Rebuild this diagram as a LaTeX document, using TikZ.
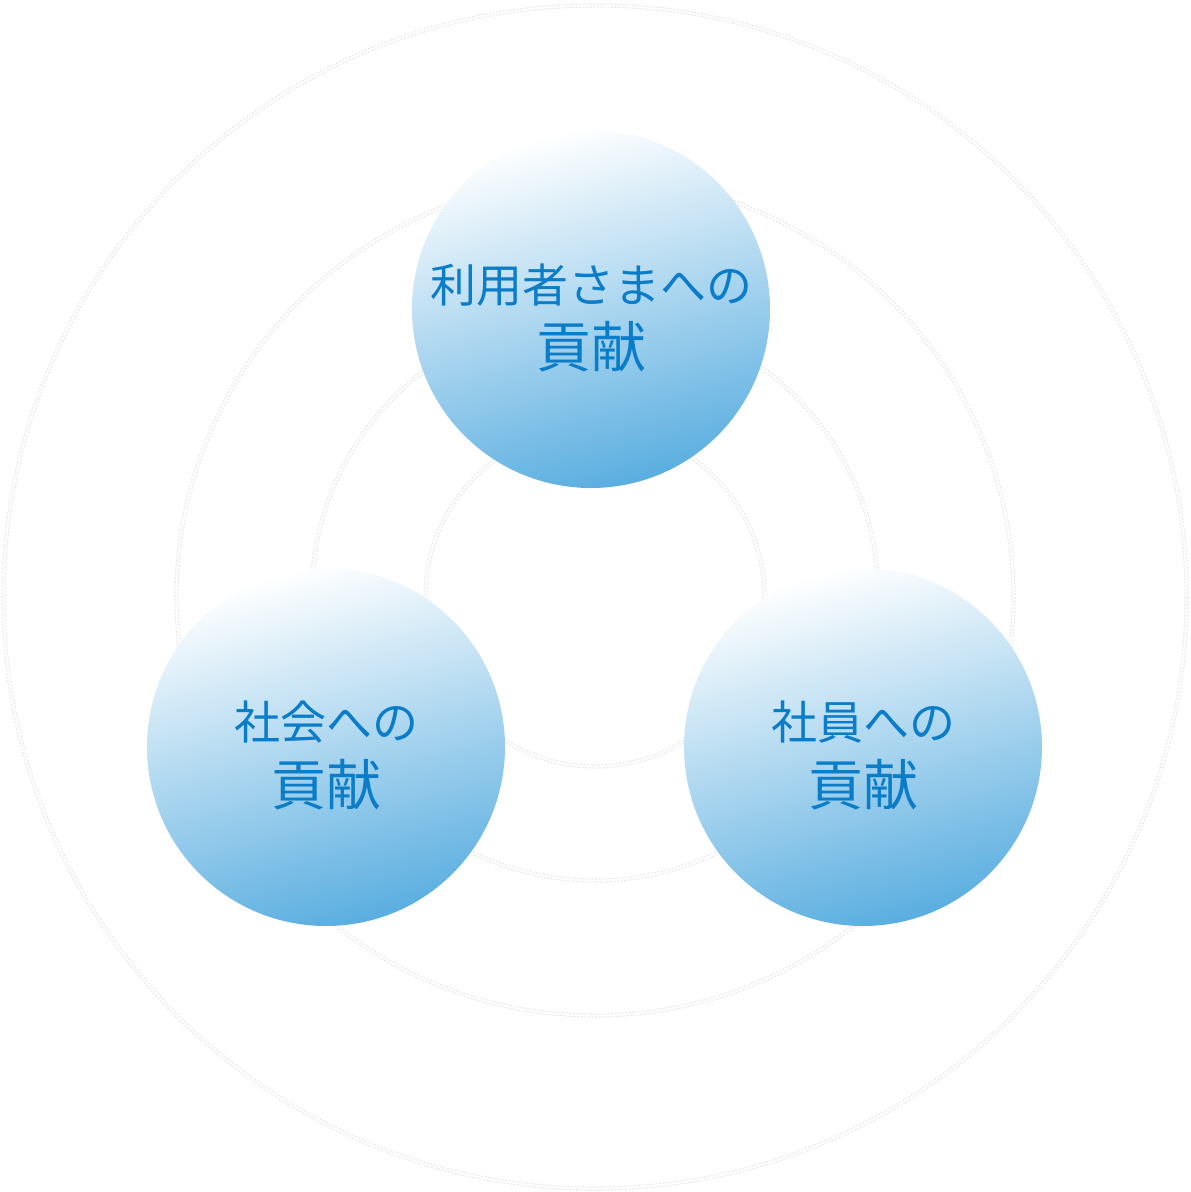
\documentclass[tikz,border=0pt]{standalone}
\usepackage{fontspec}
\newfontfamily\jpfont{Noto Sans CJK JP}
\definecolor{txtblue}{HTML}{0A7CC8}
\definecolor{ballbot}{HTML}{5AAEE0}
\definecolor{ringgray}{HTML}{E8E8E8}
\begin{document}
\begin{tikzpicture}[x=1pt,y=-1pt,
  ring/.style={draw=ringgray,line width=1.1pt,dash pattern=on 2pt off 1.5pt},
  ball/.style={circle,minimum size=358pt,inner sep=0pt,top color=white,bottom color=ballbot,shading angle=15,draw=none},
  lbl/.style={text=txtblue,font=\jpfont,align=center}]
\useasboundingbox (0,0) rectangle (1191,1192);
\coordinate (c) at (595,597);
% faint rings
\foreach \r in {168,171,282,285,417,420,590,593}{
  \draw[ring] (c) circle[radius=\r];
}
% balls
\node[ball] (top) at (591,309) {};
\node[ball] (left) at (326,747) {};
\node[ball] (right) at (863,747) {};
% labels
\node[lbl,font=\jpfont\fontsize{46}{54}\selectfont] (t1) at (591,285) {利用者さまへの};
\node[lbl,font=\jpfont\fontsize{55}{62}\selectfont] (t2) at (591,347) {貢献};
\node[lbl,font=\jpfont\fontsize{46}{54}\selectfont] (l1) at (326,722) {社会への};
\node[lbl,font=\jpfont\fontsize{55}{62}\selectfont] (l2) at (326,785) {貢献};
\node[lbl,font=\jpfont\fontsize{46}{54}\selectfont] (r1) at (863,722) {社員への};
\node[lbl,font=\jpfont\fontsize{55}{62}\selectfont] (r2) at (863,785) {貢献};
\end{tikzpicture}
\end{document}
